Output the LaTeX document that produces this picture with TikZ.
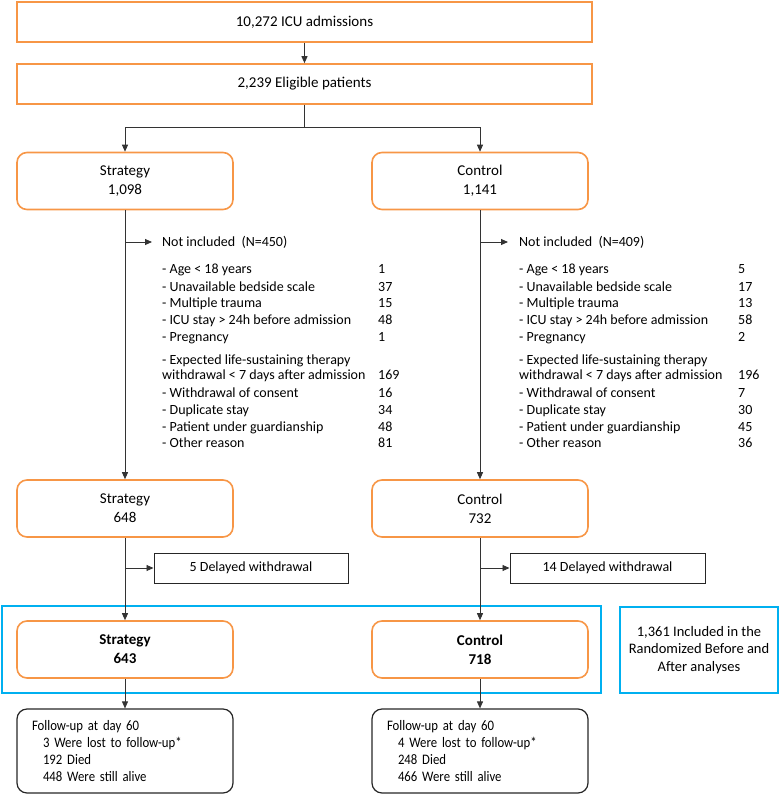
\documentclass[tikz,border=0pt]{standalone}
\usepackage{fontspec}
\setmainfont{Carlito}
\newfontfamily\narrowfont[FakeStretch=0.88]{Carlito}
\usepackage{xcolor}
\usepackage{tikz}
\usetikzlibrary{math,calc,positioning,arrows.meta}
\definecolor{flowOrange}{RGB}{247,150,70}
\definecolor{flowBlue}{RGB}{0,176,240}

\begin{document}
\begin{tikzpicture}[x=1pt,y=-1pt,>={Triangle[length=7pt,width=6pt]},draw=black!80]
    \tikzstyle{every node}=[font=\fontsize{14}{17}\selectfont];
    \tikzstyle{top box}=[rectangle,draw=flowOrange,line width=1.6pt,minimum width=575pt,minimum height=40pt,inner sep=0pt,font=\fontsize{15}{19}\selectfont];
    \tikzstyle{arm box}=[top box,rounded corners=10pt,minimum width=216pt,minimum height=57pt,align=center];
    \tikzstyle{final box}=[arm box,font=\fontsize{15}{19}\selectfont\bfseries];
    \tikzstyle{drop box}=[rectangle,draw=black!85,line width=1pt,minimum height=30pt,inner sep=0pt];
    \tikzstyle{follow box}=[rectangle,rounded corners=10pt,draw=black!85,line width=1.2pt,minimum width=216pt,minimum height=84pt,text width=186pt,inner xsep=15pt,inner ysep=0pt,align=left,font=\narrowfont\fontsize{14.5}{16.7}\selectfont];
    \tikzstyle{blue frame}=[rectangle,draw=flowBlue,line width=2.5pt,inner sep=0pt];
    \tikzstyle{item}=[anchor=west,inner sep=0pt,text height=9pt,text depth=0pt];
    \tikzstyle{arrow}=[->,draw=black!80,line width=0.9pt];

    \useasboundingbox (0,0) rectangle (784,796);

    % Draw the screening boxes
    \node[top box] (adm) at (304.5,22) {10,272 ICU admissions};
    \node[top box] (elig) at (304.5,84) {2,239 Eligible patients};

    % Draw the two arms
    \node[arm box] (s1) at (125,181) {Strategy\\1,098};
    \node[arm box] (c1) at (480,181) {Control\\1,141};
    \node[arm box] (s2) at (125,508.5) {Strategy\\648};
    \node[arm box] (c2) at (480,508.5) {Control\\732};

    % Frame the analysed groups
    \node[blue frame,minimum width=599pt,minimum height=87pt] (grp) at (301.5,649.5) {};
    \node[blue frame,minimum width=158pt,minimum height=86pt,align=center,
          font=\fontsize{14.5}{17.5}\selectfont] (incl) at (699,650)
          {1,361 Included in the\\Randomized Before and\\After analyses};
    \node[final box] (s3) at (125,649.5) {Strategy\\643};
    \node[final box] (c3) at (480,649.5) {Control\\718};

    % Follow-up boxes
    \node[follow box] (s4) at (125,751) {Follow-up at day 60\\\hspace*{11pt}3 Were lost to follow-up*\\\hspace*{11pt}192 Died\\\hspace*{11pt}448 Were still alive};
    \node[follow box] (c4) at (480,751) {Follow-up at day 60\\\hspace*{11pt}4 Were lost to follow-up*\\\hspace*{11pt}248 Died\\\hspace*{11pt}466 Were still alive};

    % Delayed withdrawals
    \node[drop box,minimum width=194pt] (sd) at (251,568) {5 Delayed withdrawal};
    \node[drop box,minimum width=195pt] (cd) at (607.5,568) {14 Delayed withdrawal};

    % Not included, with the reasons
    \node[item,inner xsep=10pt] (sn) at (152,242) {Not included\ \ (N=450)};
    \node[item,inner xsep=11pt] (cn) at (508,242) {Not included\ \ (N=409)};
    \foreach \i/\y/\txt/\ns/\nc in {1/269/{- Age < 18 years}/1/5,
        2/286.7/{- Unavailable bedside scale}/37/17,
        3/303.3/{- Multiple trauma}/15/13,
        4/320/{- ICU stay > 24h before admission}/48/58,
        5/336.7/{- Pregnancy}/1/2,
        6/360/{- Expected life-sustaining therapy}/{}/{},
        7/375/{withdrawal < 7 days after admission}/169/196,
        8/392.7/{- Withdrawal of consent}/16/7,
        9/410/{- Duplicate stay}/34/30,
        10/426.7/{- Patient under guardianship}/48/45,
        11/442.7/{- Other reason}/81/36}
    {
      \node[item] (sr-\i) at (162,\y) {\txt};
      \node[item] (sv-\i) at (378,\y) {\ns};
      \node[item] (cr-\i) at (519,\y) {\txt};
      \node[item] (cv-\i) at (738,\y) {\nc};
    }

    % Connect the boxes
    \coordinate (split) at (304.5,127);
    \draw[arrow] (adm) -- (elig);
    \draw[line width=0.9pt] (elig.south) -- (split);
    \draw[arrow] (split) -| (s1.north);
    \draw[arrow] (split) -| (c1.north);

    \draw[arrow] (s1) -- (s2);
    \draw[arrow] (c1) -- (c2);
    \draw[arrow] (s1.south |- sn.west) -- (sn.west);
    \draw[arrow] (c1.south |- cn.west) -- (cn.west);

    \draw[arrow] (s2) -- (s3);
    \draw[arrow] (c2) -- (c3);
    \draw[arrow] (s2.south |- sd.west) -- (sd.west);
    \draw[arrow] (c2.south |- cd.west) -- (cd.west);

    \draw[arrow] (s3) -- (s4);
    \draw[arrow] (c3) -- (c4);
\end{tikzpicture}
\end{document}
